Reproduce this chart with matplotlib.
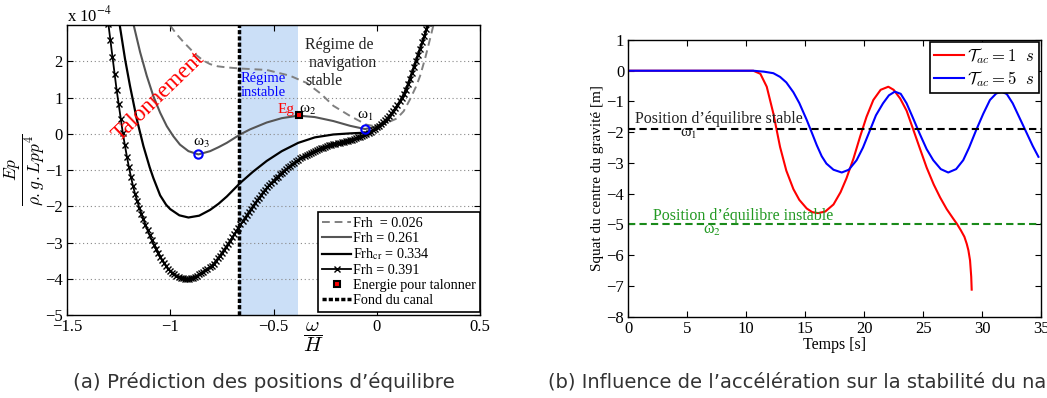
import matplotlib
matplotlib.use('Agg')
import matplotlib.pyplot as plt

plt.rcParams['font.family'] = ['Liberation Serif', 'DejaVu Serif']
plt.rcParams['mathtext.fontset'] = 'stix'

# ---- (a) energie potentielle ----
x_026 = [-1.001, -0.97, -0.936, -0.90, -0.872, -0.84, -0.807, -0.77, -0.726, -0.662, -0.533, -0.42,
         -0.339, -0.27, -0.21, -0.129, -0.05, 0.0, 0.032, 0.097, 0.13, 0.161, 0.19, 0.21, 0.235,
         0.258, 0.274]
y_026 = [2.99, 2.75, 2.53, 2.32, 2.16, 2.02, 1.92, 1.86, 1.83, 1.80, 1.76, 1.60,
         1.40, 1.10, 0.77, 0.49, 0.25, 0.20, 0.26, 0.42, 0.62, 0.95, 1.30, 1.60, 2.10,
         2.62, 2.99]

x_261 = [-1.179, -1.146, -1.114, -1.082, -1.049, -1.017, -0.985, -0.953, -0.912, -0.864, -0.807,
         -0.766, -0.726, -0.662, -0.614, -0.533, -0.46, -0.38, -0.30, -0.21, -0.13, -0.057,
         0.0, 0.05, 0.10, 0.129, 0.15, 0.177, 0.20, 0.226, 0.25]
y_261 = [3.04, 2.25, 1.60, 1.04, 0.58, 0.21, -0.07, -0.30, -0.48, -0.57, -0.48,
         -0.37, -0.25, -0.02, 0.12, 0.31, 0.43, 0.50, 0.46, 0.35, 0.22, 0.13,
         0.20, 0.38, 0.76, 1.04, 1.33, 1.79, 2.18, 2.62, 3.04]

x_334 = [-1.246, -1.219, -1.195, -1.162, -1.13, -1.10, -1.082, -1.049, -1.02, -1.0, -0.956, -0.912,
         -0.86, -0.807, -0.766, -0.726, -0.662, -0.60, -0.533, -0.46, -0.38, -0.30, -0.21, -0.13,
         -0.057, 0.0, 0.05, 0.10, 0.129, 0.15, 0.177, 0.20, 0.226, 0.25]
y_334 = [3.04, 2.06, 1.32, 0.40, -0.34, -0.92, -1.22, -1.70, -1.96, -2.08, -2.25, -2.31,
         -2.26, -2.10, -1.93, -1.73, -1.36, -1.05, -0.75, -0.48, -0.25, -0.10, -0.02, 0.01,
         0.03, 0.12, 0.35, 0.75, 1.04, 1.33, 1.79, 2.18, 2.62, 3.04]

x_391 = [-1.30, -1.29, -1.28, -1.27, -1.26, -1.25, -1.24, -1.23, -1.22, -1.21, -1.20,
         -1.19, -1.18, -1.17, -1.16, -1.15, -1.14, -1.13, -1.12, -1.11, -1.10,
         -1.09, -1.08, -1.07, -1.06, -1.05, -1.04, -1.03, -1.02, -1.01, -1.00,
         -0.99, -0.98, -0.97, -0.96, -0.95, -0.94, -0.93, -0.92, -0.91, -0.90,
         -0.89, -0.88, -0.87, -0.86, -0.85, -0.84, -0.83, -0.82, -0.81, -0.80,
         -0.79, -0.78, -0.77, -0.76, -0.75, -0.74, -0.73, -0.72, -0.71, -0.70,
         -0.69, -0.68, -0.67, -0.66, -0.65, -0.64, -0.63, -0.62, -0.61, -0.60,
         -0.59, -0.58, -0.57, -0.56, -0.55, -0.54, -0.53, -0.52, -0.51, -0.50,
         -0.49, -0.48, -0.47, -0.46, -0.45, -0.44, -0.43, -0.42, -0.41, -0.40,
         -0.39, -0.38, -0.37, -0.36, -0.35, -0.34, -0.33, -0.32, -0.31, -0.30,
         -0.29, -0.28, -0.27, -0.26, -0.25, -0.24, -0.23, -0.22, -0.21, -0.20,
         -0.19, -0.18, -0.17, -0.16, -0.15, -0.14, -0.13, -0.12, -0.11, -0.10,
         -0.09, -0.08, -0.07, -0.06, -0.05, -0.04, -0.03, -0.02, -0.01, 0.00,
         0.01, 0.02, 0.03, 0.04, 0.05, 0.06, 0.07, 0.08, 0.09, 0.10,
         0.11, 0.12, 0.13, 0.14, 0.15, 0.16, 0.17, 0.18, 0.19, 0.20,
         0.21, 0.22, 0.23, 0.24, 0.25]
y_391 = [3.04, 2.58, 2.12, 1.65, 1.22, 0.82, 0.42, 0.03, -0.31, -0.63, -0.93,
         -1.20, -1.45, -1.67, -1.86, -2.04, -2.20, -2.36, -2.51, -2.66, -2.80,
         -2.93, -3.06, -3.18, -3.29, -3.39, -3.48, -3.57, -3.65, -3.72, -3.78,
         -3.84, -3.88, -3.92, -3.95, -3.97, -3.99, -4.00, -4.00, -4.00, -3.99,
         -3.97, -3.94, -3.91, -3.88, -3.84, -3.80, -3.76, -3.72, -3.68, -3.64,
         -3.58, -3.51, -3.44, -3.36, -3.28, -3.20, -3.12, -3.03, -2.95, -2.86,
         -2.77, -2.68, -2.59, -2.50, -2.42, -2.33, -2.25, -2.16, -2.08, -2.00,
         -1.92, -1.84, -1.77, -1.69, -1.61, -1.54, -1.48, -1.41, -1.35, -1.29,
         -1.23, -1.18, -1.12, -1.07, -1.02, -0.98, -0.93, -0.89, -0.84, -0.80,
         -0.76, -0.72, -0.68, -0.65, -0.61, -0.58, -0.55, -0.52, -0.49, -0.47,
         -0.44, -0.42, -0.40, -0.38, -0.36, -0.34, -0.32, -0.31, -0.29, -0.28,
         -0.26, -0.25, -0.23, -0.22, -0.20, -0.19, -0.17, -0.16, -0.14, -0.12,
         -0.10, -0.08, -0.06, -0.03, -0.01, 0.03, 0.06, 0.10, 0.14, 0.18,
         0.22, 0.27, 0.32, 0.37, 0.43, 0.49, 0.56, 0.63, 0.71, 0.80,
         0.89, 0.99, 1.10, 1.22, 1.36, 1.51, 1.67, 1.84, 2.01, 2.18,
         2.35, 2.52, 2.70, 2.88, 3.05]

omega_pts_x = [-0.864, -0.055]
omega_pts_y = [-0.57, 0.14]
eg_x = [-0.376]
eg_y = [0.51]
fond_x = -0.665
zone_instable = [-0.665, -0.383]

# ---- (b) squat ----
t_1 = [0, 10.6, 11.2, 11.74, 12.3, 12.87, 13.4, 14.0, 14.5, 15.13, 15.6, 16.1, 16.7, 17.4, 18.0,
       18.5, 19.1, 19.65, 20.2, 20.78, 21.4, 22.05, 22.5, 23.05, 23.6, 24.18, 24.7, 25.3, 25.9,
       26.44, 27.0, 27.57, 27.85, 28.2, 28.5, 28.7, 28.84, 28.98, 29.08, 29.12]
z_1 = [0, 0, -0.1, -0.52, -1.39, -2.48, -3.25, -3.85, -4.2, -4.48, -4.6, -4.63, -4.58, -4.35, -3.95,
       -3.5, -2.85, -2.15, -1.5, -0.95, -0.62, -0.52, -0.62, -0.9, -1.3, -1.93, -2.5, -3.15, -3.7,
       -4.12, -4.5, -4.82, -4.97, -5.19, -5.4, -5.63, -5.84, -6.17, -6.7, -7.12]

t_5 = [0, 10.6, 11.5, 12.3, 12.87, 13.4, 14.0, 14.5, 15.13, 15.6, 15.98, 16.4, 16.8, 17.4, 18.1,
       18.7, 19.36, 19.9, 20.5, 21.0, 21.6, 22.1, 22.6, 23.1, 23.6, 24.1, 24.7, 25.3, 25.86, 26.5,
       27.13, 27.8, 28.4, 28.9, 29.5, 30.1, 30.67, 31.2, 31.67, 32.1, 32.6, 33.2, 33.8, 34.3, 34.78]
z_5 = [0, 0, -0.03, -0.08, -0.2, -0.38, -0.7, -1.05, -1.6, -2.05, -2.42, -2.78, -3.02, -3.22, -3.31,
       -3.22, -2.91, -2.5, -1.93, -1.45, -1.06, -0.8, -0.68, -0.75, -1.06, -1.5, -2.04, -2.55, -2.91, -3.2,
       -3.31, -3.2, -2.91, -2.5, -1.93, -1.4, -0.95, -0.74, -0.68, -0.76, -1.06, -1.55, -2.04, -2.45, -2.8]

eq_stable = -1.88
eq_instable = -5.0

fig = plt.figure(figsize=(10.47, 3.98), dpi=100)

ax1 = fig.add_axes([0.064, 0.2085, 0.3945, 0.7287])
ax1.axvspan(zone_instable[0], zone_instable[1], color='#cbdff7', lw=0, zorder=0)
ax1.plot(x_026, y_026, color='#808080', lw=1.4, dashes=(4, 2.5), label='Frh  = 0.026')
ax1.plot(x_261, y_261, color='#555555', lw=1.5, label='Frh = 0.261')
ax1.plot(x_334, y_334, color='black', lw=1.6, label='Frh$_{\\mathrm{cr}}$ = 0.334')
ax1.plot(x_391, y_391, color='black', lw=1.3, marker='x', ms=4, mew=1.0,
         label='Frh = 0.391')
ax1.plot(eg_x, eg_y, ls='none', marker='s', ms=5, mfc='red', mec='black', mew=1.5,
         label='Energie pour talonner', zorder=5)
ax1.axvline(fond_x, color='black', lw=2.5, ls=(0, (1.2, 0.6)), label='Fond du canal', zorder=4)
ax1.plot(omega_pts_x, omega_pts_y, ls='none', marker='o', ms=6, mfc='none', mec='blue', mew=1.5, zorder=6)

ax1.set_xlim(-1.5, 0.5)
ax1.set_ylim(-5, 3.0)
ax1.set_xticks([-1.5, -1, -0.5, 0, 0.5])
ax1.set_xticklabels(['\u22121.5', '\u22121', '\u22120.5', '0', '0.5'])
ax1.set_yticks([-5, -4, -3, -2, -1, 0, 1, 2])
ax1.set_yticklabels(['\u22125', '\u22124', '\u22123', '\u22122', '\u22121', '0', '1', '2'])
ax1.tick_params(direction='in', top=True, right=True, labelsize=12, length=4, pad=3)
for yv in [-4, -3, -2, -1, 0, 1, 2]:
    ax1.axhline(yv, color='#888888', lw=0.8, ls=(0, (1, 2.5)), zorder=0.5)

ax1.text(-1.058, 1.01, 'Talonnement', color='red', fontsize=16.5, rotation=44,
         ha='center', va='center')
ax1.text(-0.549, 1.71, 'Régime\ninstable', color='blue', fontsize=10.5, ha='center', va='top',
         linespacing=1.1)
ax1.text(-0.347, 2.67, 'Régime de\n navigation\nstable', color='#222222', fontsize=11.5,
         ha='left', va='top', linespacing=1.15)
ax1.text(-0.483, 0.58, 'Eg', color='red', fontsize=11, ha='left', va='baseline')
ax1.text(-0.376, 0.58, '\u03c9$_2$', color='black', fontsize=11, ha='left', va='baseline')
ax1.text(-0.094, 0.40, '\u03c9$_1$', color='black', fontsize=11, ha='left', va='baseline')
ax1.text(-0.891, -0.34, '\u03c9$_3$', color='black', fontsize=11, ha='left', va='baseline')

leg1 = ax1.legend(loc='lower right', bbox_to_anchor=(1.0, 0.012), fontsize=10.2, fancybox=False,
                  edgecolor='black', framealpha=1, borderaxespad=0, handlelength=2.0,
                  handletextpad=0.15, labelspacing=0.14, borderpad=0.3)
leg1.get_frame().set_linewidth(1.2)

fig.text(66.7 / 1047, 1 - 21.7 / 398, 'x 10$^{-4}$', fontsize=12, ha='left', va='baseline')
fig.text(313 / 1047, 1 - 337 / 398, '$\\dfrac{\\omega}{H}$', fontsize=15, ha='center', va='center',
         math_fontfamily='cm')
fig.text(25 / 1047, 1 - 170 / 398, '$\\dfrac{Ep}{\\rho.g.Lpp^4}$', fontsize=12.5, ha='center', va='center',
         rotation=90, math_fontfamily='cm')

ax2 = fig.add_axes([0.6001, 0.2043, 0.3942, 0.6952])
ax2.plot(t_1, z_1, color='red', lw=1.5, label='$\\mathcal{T}_{ac} = 1\\ \\ s$')
ax2.plot(t_5, z_5, color='blue', lw=1.5, label='$\\mathcal{T}_{ac} = 5\\ \\ s$')
ax2.axhline(eq_stable, color='black', lw=1.5, ls=(0, (3.5, 2)))
ax2.axhline(eq_instable, color='#1a8a1a', lw=1.5, ls=(0, (3.5, 2)))
ax2.set_xlim(0, 35)
ax2.set_ylim(-8, 1)
ax2.set_xticks(range(0, 36, 5))
ax2.set_yticks(range(-8, 2))
ax2.set_yticklabels([('\u2212' + str(-v)) if v < 0 else str(v) for v in range(-8, 2)])
ax2.tick_params(direction='in', top=True, right=True, labelsize=12, length=4, pad=3)
ax2.set_xlabel('Temps [s]', fontsize=11.5, labelpad=0)
ax2.set_ylabel('Squat du centre du gravité [m]', fontsize=11, labelpad=2)
ax2.text(0.55, -1.7, 'Position d\u2019équilibre stable', fontsize=11.5, color='#222222', va='baseline')
ax2.text(4.4, -2.15, '\u03c9$_1$', fontsize=11.5, color='#222222', va='baseline')
ax2.text(2.1, -4.86, 'Position d\u2019équilibre instable', fontsize=11.5, color='#229922', va='baseline')
ax2.text(6.35, -5.3, '\u03c9$_2$', fontsize=11.5, color='#229922', va='baseline')
leg2 = ax2.legend(loc='upper right', fancybox=False, edgecolor='black', framealpha=1,
                  borderaxespad=0.1, handlelength=1.8, handletextpad=0.2, labelspacing=0.2,
                  borderpad=0.25, prop={'math_fontfamily': 'cm', 'size': 12})
leg2.get_frame().set_linewidth(1.2)

for ax in (ax1, ax2):
    for sp in ax.spines.values():
        sp.set_linewidth(1.0)

fig.text(264 / 1047, 1 - 382 / 398, '(a) Prédiction des positions d\u2019équilibre', fontsize=14.3,
         family='DejaVu Sans', color='#333333', ha='center', va='center')
fig.text(548 / 1047, 1 - 382 / 398, '(b) Influence de l\u2019accélération sur la stabilité du navire',
         fontsize=14, family='DejaVu Sans', color='#333333', ha='left', va='center')

fig.savefig('out.png', dpi=100)
